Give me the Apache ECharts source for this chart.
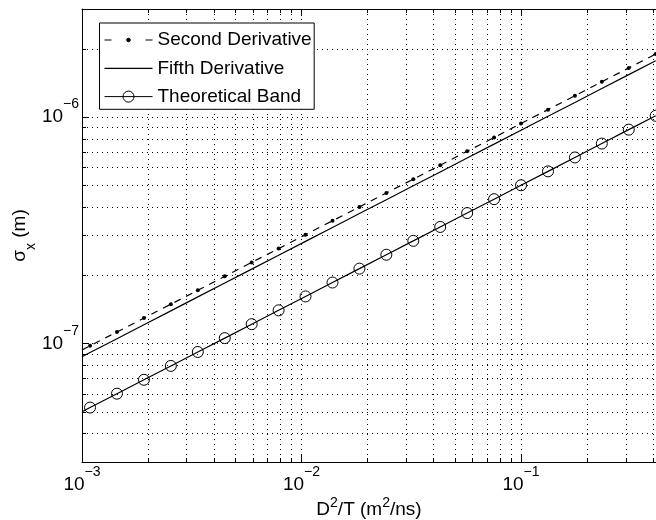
<!DOCTYPE html>
<html>
<head>
<meta charset="utf-8">
<script src="https://cdn.jsdelivr.net/npm/echarts@6/dist/echarts.min.js"></script>
<style>html,body{margin:0;padding:0;background:#fff}#c{width:656px;height:520px}</style>
</head>
<body>
<div id="c"></div>
<script>
// ---- data ----
const seriesNames = ['Second Derivative', 'Fifth Derivative', 'Theoretical Band'];
const xValues = [0.001, 0.001088, 0.001443, 0.001915, 0.00254, 0.00337, 0.004471, 0.005929, 0.007865,
  0.01043, 0.01384, 0.01836, 0.02435, 0.0323, 0.04284, 0.05683, 0.07539, 0.1, 0.1327, 0.176, 0.2334, 0.3096, 0.4107];
const secondDeriv = [9.37e-8, 9.77e-8, 1.125e-7, 1.296e-7, 1.492e-7, 1.719e-7, 1.980e-7, 2.281e-7, 2.626e-7,
  3.025e-7, 3.484e-7, 4.012e-7, 4.621e-7, 5.321e-7, 6.129e-7, 7.059e-7, 8.129e-7, 9.365e-7, 1.0785e-6, 1.2422e-6, 1.4306e-6, 1.6481e-6, 1.8973e-6];
const fifthDeriv = [8.75e-8, 9.13e-8, 1.051e-7, 1.211e-7, 1.394e-7, 1.607e-7, 1.850e-7, 2.132e-7, 2.454e-7,
  2.826e-7, 3.255e-7, 3.749e-7, 4.317e-7, 4.972e-7, 5.726e-7, 6.596e-7, 7.595e-7, 8.75e-7, 1.0077e-6, 1.1606e-6, 1.3367e-6, 1.5398e-6, 1.7728e-6];
const theoretical = [5.0e-8, 5.217e-8, 6.008e-8, 6.92e-8, 7.968e-8, 9.18e-8, 1.057e-7, 1.218e-7, 1.402e-7,
  1.615e-7, 1.86e-7, 2.142e-7, 2.467e-7, 2.841e-7, 3.272e-7, 3.769e-7, 4.34e-7, 5.0e-7, 5.758e-7, 6.632e-7, 7.638e-7, 8.799e-7, 1.013e-6];
const xRange = [0.001, 0.412];
const yRange = [3e-8, 3e-6];
const xTickLabels = {'-3': '−3', '-2': '−2', '-1': '−1'};
const yTickLabels = {'-7': '−7', '-6': '−6'};

// ---- styling ----
const FONT = "'Liberation Sans', Arial, Helvetica, sans-serif";
const gridLine = {color: '#000', width: 1, type: [1, 4]};
const richTick = {
  b: {fontSize: 19, fontFamily: FONT, color: '#000', lineHeight: 20},
  s: {fontSize: 14, fontFamily: FONT, color: '#000', lineHeight: 14, padding: [0, 0, 25, 0]}
};
function tickFmt(map) {
  return function (v) {
    const e = Math.round(Math.log10(v));
    if (Math.abs(Math.log10(v) - e) > 1e-6) return '';
    const lab = map[String(e)];
    return lab ? '{b|10}{s|' + lab + '}' : '';
  };
}
function pts(ys) {
  return xValues.map((x, i) => i === 0 ? {value: [x, ys[i]], symbol: 'none'} : [x, ys[i]]);
}
const baseAxis = {
  type: 'log', logBase: 10,
  axisLine: {show: true, lineStyle: {color: '#000', width: 1}},
  axisTick: {show: true, inside: true, length: 7, lineStyle: {color: '#000', width: 1}},
  minorTick: {show: true, splitNumber: 9, length: 4, lineStyle: {color: '#000', width: 1}}
};

const chart = echarts.init(document.getElementById('c'), null, {renderer: 'canvas'});
chart.setOption({
  animation: false,
  backgroundColor: '#fff',
  grid: {left: 82, right: 0, top: 9, bottom: 58, containLabel: false, outerBoundsMode: 'none'},
  xAxis: [
    Object.assign({}, baseAxis, {
      min: xRange[0], max: xRange[1], position: 'bottom',
      splitLine: {show: true, lineStyle: gridLine},
      minorSplitLine: {show: true, lineStyle: gridLine},
      axisLabel: {show: true, margin: 13, formatter: tickFmt(xTickLabels), rich: richTick, showMinLabel: true, showMaxLabel: true},
      name: '{b|D}{s|2}{b|/T (m}{s|2}{b|/ns)}',
      nameLocation: 'middle', nameGap: 38, nameMoveOverlap: false,
      nameTextStyle: {rich: {
        b: {fontSize: 19, fontFamily: FONT, color: '#000', lineHeight: 20},
        s: {fontSize: 14, fontFamily: FONT, color: '#000', lineHeight: 14, padding: [0, 0, 13, 0]}
      }}
    }),
    Object.assign({}, baseAxis, {
      min: xRange[0], max: xRange[1], position: 'top',
      splitLine: {show: false}, minorSplitLine: {show: false},
      axisLabel: {show: false}
    })
  ],
  yAxis: [
    Object.assign({}, baseAxis, {
      min: yRange[0], max: yRange[1], position: 'left',
      splitLine: {show: true, lineStyle: gridLine},
      minorSplitLine: {show: true, lineStyle: gridLine},
      axisLabel: {show: true, margin: 3, formatter: tickFmt(yTickLabels), rich: richTick, showMinLabel: true, showMaxLabel: true},
      name: '{b|σ}{u|x}{b| (m)}',
      nameLocation: 'middle', nameRotate: 90, nameGap: 52, nameMoveOverlap: false,
      nameTextStyle: {rich: {
        b: {fontSize: 19, fontFamily: FONT, color: '#000', lineHeight: 20},
        u: {fontSize: 14, fontFamily: FONT, color: '#000', lineHeight: 14, padding: [22, 0, 0, 0]}
      }}
    })
  ],
  legend: {
    orient: 'vertical', left: 99.5, top: 23,
    padding: [7, 2.5, 2.7, 2.5],
    itemWidth: 48, itemHeight: 12, itemGap: 8.3,
    backgroundColor: '#fff', borderColor: '#000', borderWidth: 1, borderRadius: 0,
    textStyle: {fontSize: 19, fontFamily: FONT, color: '#000', lineHeight: 20},
    symbolKeepAspect: true,
    selectedMode: false,
    data: [
      {name: seriesNames[0],
       icon: 'path://M0,6 L7,6 M41,6 L48,6 M25.8,6 A1.8,1.8 0 1 1 22.2,6 A1.8,1.8 0 1 1 25.8,6 Z',
       itemStyle: {color: '#000', borderColor: '#000', borderWidth: 1}},
      {name: seriesNames[1],
       icon: 'path://M0,5.4 L48,5.4 L48,6.6 L0,6.6 Z',
       itemStyle: {color: '#000', borderWidth: 0}},
      {name: seriesNames[2],
       icon: 'path://M0,6 L48,6 M29.5,6 A5.5,5.5 0 1 1 18.5,6 A5.5,5.5 0 1 1 29.5,6 Z',
       itemStyle: {color: 'none', borderColor: '#000', borderWidth: 1}}
    ]
  },
  series: [
    {name: seriesNames[0], type: 'line', data: pts(secondDeriv),
     symbol: 'circle', symbolSize: 4, showSymbol: true, showAllSymbol: true,
     itemStyle: {color: '#000', borderWidth: 0},
     lineStyle: {color: '#000', width: 1.2, type: [7, 6]}, silent: true, z: 3},
    {name: seriesNames[1], type: 'line', data: pts(fifthDeriv),
     symbol: 'none', itemStyle: {color: '#000'},
     lineStyle: {color: '#000', width: 1.2}, silent: true, z: 3},
    {name: seriesNames[2], type: 'line', data: pts(theoretical),
     symbol: 'circle', symbolSize: 11, showSymbol: true, showAllSymbol: true,
     itemStyle: {color: 'none', borderColor: '#000', borderWidth: 1},
     lineStyle: {color: '#000', width: 1.2}, silent: true, z: 3}
  ]
});
</script>
</body>
</html>
